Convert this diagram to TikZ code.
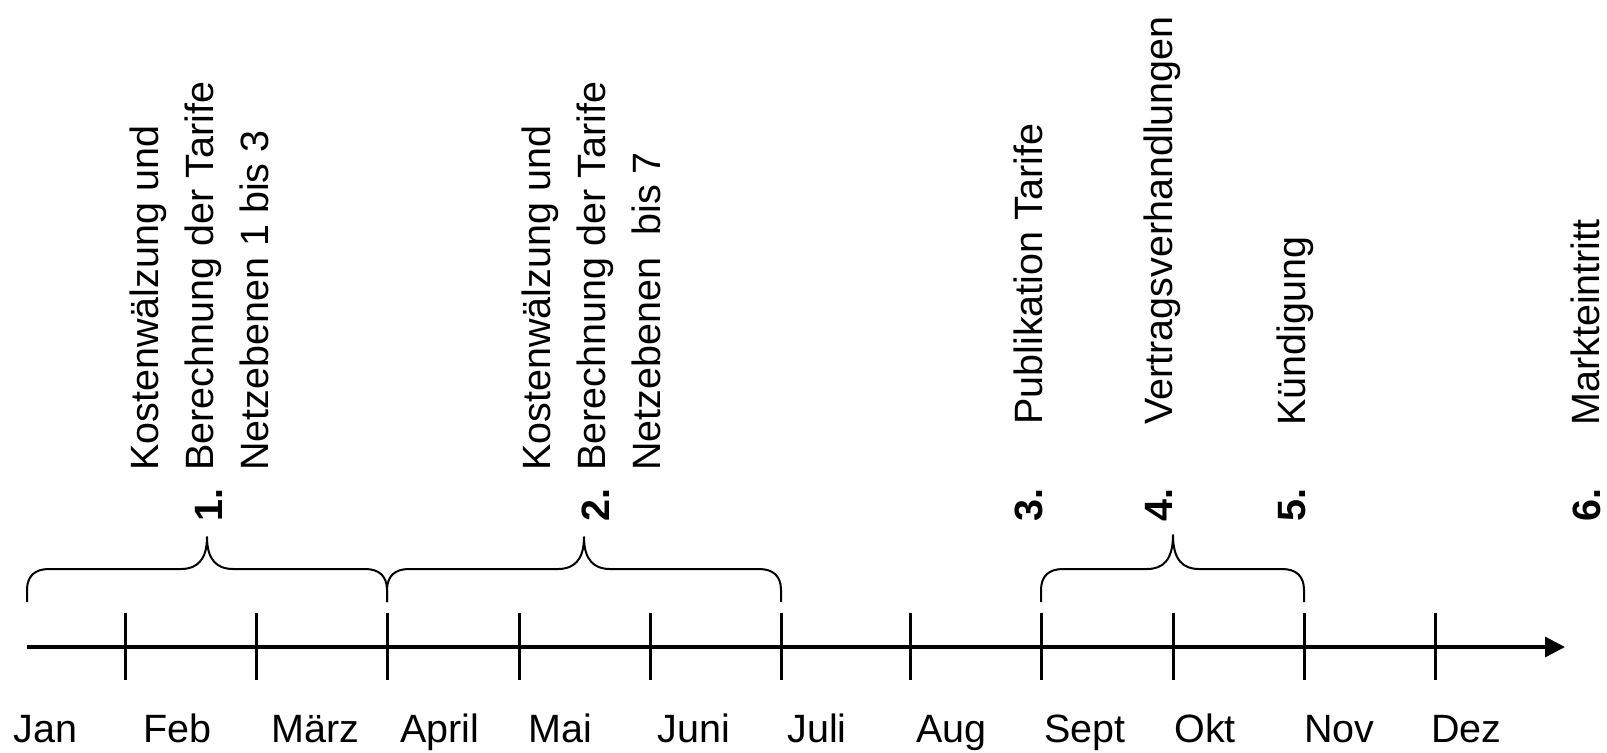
\documentclass[tikz,border=0pt]{standalone}
\usepackage{fontspec}
\setmainfont{Liberation Sans}
\usetikzlibrary{arrows.meta}

% curly brace from #1 to #3 with its tip at #2, tip reaching height #4
\newcommand\drawbrace[4]{%
  \draw[bracepath] (#1,602) -- (#1,590)
    .. controls (#1,576) and (#1+8,569) .. (#1+22,569)
    -- (#2-26,569) .. controls (#2-10,569) and (#2,560) .. (#2,#4)
    .. controls (#2,560) and (#2+10,569) .. (#2+26,569)
    -- (#3-22,569) .. controls (#3-8,569) and (#3,576) .. (#3,590) -- (#3,602);
}

\begin{document}
\begin{tikzpicture}[x=0.5pt,y=-0.5pt,
  axisline/.style={line width=1.65pt},
  tickline/.style={line width=1.5pt},
  bracepath/.style={line width=1pt, line join=round},
  txt/.style={inner sep=0pt, font=\fontsize{19.75}{24}\selectfont},
  month/.style={txt, anchor=base west},
  vlabel/.style={txt, anchor=base west, rotate=90},
  vnum/.style={vlabel, font=\fontsize{19.75}{24}\selectfont\bfseries}]

\useasboundingbox (0,0) rectangle (1607,752);

% time axis
\coordinate (axstart) at (27,647);
\coordinate (axend) at (1565,647);
\draw[axisline, -{Triangle[length=10pt,width=10pt]}] (axstart) -- (axend);

% month ticks
\foreach \x [count=\i] in {125,256,387,519,650,781,910,1041,1173,1304,1435}{
  \coordinate (t\i) at (\x,647);
  \draw[tickline] (\x,613) -- (\x,680);
}

% month names
\node[month] (jan)  at (13,742)   {Jan};
\node[month] (feb)  at (143,742)  {Feb};
\node[month] (mar)  at (271,742)  {März};
\node[month] (apr)  at (400,742)  {April};
\node[month] (mai)  at (528,742)  {Mai};
\node[month] (jun)  at (657,742)  {Juni};
\node[month] (jul)  at (787,742)  {Juli};
\node[month] (aug)  at (916,742)  {Aug};
\node[month] (sep)  at (1044,742) {Sept};
\node[month] (okt)  at (1174,742) {Okt};
\node[month] (nov)  at (1304,742) {Nov};
\node[month] (dez)  at (1431,742) {Dez};

% braces over the phases
\drawbrace{27}{207}{387}{537}
\drawbrace{387}{584}{781}{537}
\drawbrace{1041}{1173}{1304}{535}

% phase 1
\node[vnum]   (n1)  at (222,522) {1.};
\node[vlabel] (k1a) at (158,471) {Kostenwälzung und};
\node[vlabel] (k1b) at (213,471) {Berechnung der Tarife};
\node[vlabel] (k1c) at (268,471) {Netzebenen 1 bis 3};

% phase 2
\node[vnum]   (n2)  at (609,522) {2.};
\node[vlabel] (k2a) at (550,471) {Kostenwälzung und};
\node[vlabel] (k2b) at (605,471) {Berechnung der Tarife};
\node[vlabel] (k2c) at (660,471) {Netzebenen \ bis 7};

% phases 3 to 6
\node[vnum]   (n3)  at (1042,522) {3.};
\node[vlabel] (k3)  at (1042,425) {Publikation Tarife};
\node[vnum]   (n4)  at (1172,522) {4.};
\node[vlabel] (k4)  at (1172,425) {Vertragsverhandlungen};
\node[vnum]   (n5)  at (1305,522) {5.};
\node[vlabel] (k5)  at (1305,426) {Kündigung};
\node[vnum]   (n6)  at (1600,522) {6.};
\node[vlabel] (k6)  at (1599,426) {Markteintritt};

\end{tikzpicture}
\end{document}
